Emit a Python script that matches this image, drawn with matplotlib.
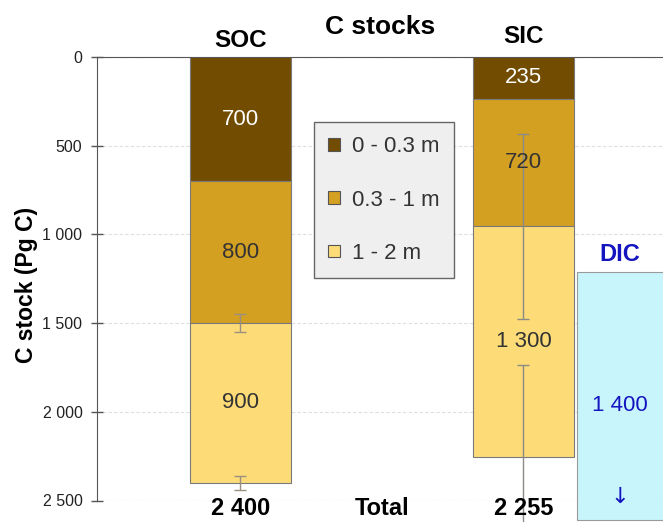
import numpy as np
import matplotlib
matplotlib.use("Agg")
import matplotlib.pyplot as plt
from matplotlib.patches import Patch
from matplotlib.ticker import FuncFormatter

plt.rcParams['font.family'] = ['Liberation Sans', 'DejaVu Sans']

# datos
capas = ['0 - 0.3 m', '0.3 - 1 m', '1 - 2 m']
colores = ['#724c00', '#d4a022', '#fddc78']
color_txt = ['white', '#333333', '#333333']

soc = [700, 800, 900]
sic = [235, 720, 1300]
soc_err = [50, 40]      # en 1500 y 2400
sic_err = [520, 520]    # en 955 y 2255
dic_inicio = 1212
dic = 1400

x_soc, x_sic = 1, 2
ancho = 0.357
x_dic = 2.19

def miles(v, pos=None):
    return f"{int(v):,}".replace(",", " ")

fig = plt.figure(figsize=(6.63, 5.22), dpi=100)
ax = fig.add_axes([97/663, 1 - 500.5/522, 566/663, 443.5/522])

# barras apiladas hacia abajo
for barras, xpos in [(soc, x_soc), (sic, x_sic)]:
    base = 0
    for i, v in enumerate(barras):
        ax.bar(xpos, v, bottom=base, width=ancho, color=colores[i],
               edgecolor='#7a7a7a', linewidth=0.8, zorder=2)
        ax.text(xpos, base + v / 2, miles(v), ha='center', va='center',
                fontsize=16, color=color_txt[i], zorder=4)
        base += v

# barras de error en las fronteras
soc_cum = np.cumsum(soc)[1:]
sic_cum = np.cumsum(sic)[1:]
ax.errorbar([x_soc] * 2, soc_cum, yerr=soc_err, fmt='none', ecolor='#9a8f80',
            elinewidth=1, capsize=4, capthick=1, zorder=3, clip_on=False)
ax.errorbar([x_sic] * 2, sic_cum, yerr=sic_err, fmt='none', ecolor='#8c8a86',
            elinewidth=1, capsize=4, capthick=1, zorder=3, clip_on=False)

# DIC
ax.bar(x_dic, dic, bottom=dic_inicio, width=ancho, align='edge', color='#c8f5fc',
       edgecolor='#9a9a9a', linewidth=0.8, zorder=2, clip_on=False)
x_dic_txt = 2.34
ax.text(x_dic_txt, 1116, 'DIC', ha='center', va='center', fontsize=17,
        fontweight='bold', color='#1515c0')
ax.text(x_dic_txt, 1965, miles(dic), ha='center', va='center', fontsize=16,
        color='#1515c0', zorder=4)
ax.text(x_dic_txt, 2478, '↓', ha='center', va='center', fontsize=16,
        color='#1515c0', zorder=4, family=['DejaVu Sans'])

# linea base de categorias (se ve sobre DIC)
ax.axhline(2500, color='#dcdcdc', linewidth=0.8, zorder=2.5)

# titulos y totales
ax.text(x_soc, -93, 'SOC', ha='center', va='center', fontsize=17.5, fontweight='bold', clip_on=False)
ax.text(x_sic, -113, 'SIC', ha='center', va='center', fontsize=17.5, fontweight='bold', clip_on=False)
ax.text(1.495, -169, 'C stocks', ha='center', va='center', fontsize=19, fontweight='bold', clip_on=False)
ax.text(x_soc, 2545, miles(sum(soc)), ha='center', va='center', fontsize=17, fontweight='bold', clip_on=False)
ax.text(x_sic, 2545, miles(sum(sic)), ha='center', va='center', fontsize=17, fontweight='bold', clip_on=False)
ax.text(1.5, 2545, 'Total', ha='center', va='center', fontsize=17, fontweight='bold', clip_on=False)

ax.set_xlim(0.493, 2.493)
ax.set_ylim(2500, 0)
ax.set_yticks(np.arange(0, 2501, 500))
ax.yaxis.set_major_formatter(FuncFormatter(miles))
ax.set_xticks([])
ax.tick_params(axis='y', direction='inout', length=9, width=1, color='#555555',
               labelsize=11.5, labelcolor='#222222', pad=6)
ax.yaxis.grid(True, linestyle=(0, (3, 2)), color='#dedede', linewidth=0.8, zorder=0)
ax.set_axisbelow(True)
for s in ['right', 'bottom']:
    ax.spines[s].set_visible(False)
ax.spines['left'].set_color('#555555')
ax.spines['top'].set_color('#555555')
ax.set_ylabel('C stock (Pg C)', fontsize=16.5, fontweight='bold')
ax.yaxis.set_label_coords(-0.105, 0.485)

handles = [Patch(facecolor=c, edgecolor='#555555', linewidth=0.8) for c in colores]
leg = fig.legend(handles, capas, loc='upper left', bbox_to_anchor=(314/663, 1 - 122/522),
                 bbox_transform=fig.transFigure, borderaxespad=0, fontsize=16,
                 handlelength=0.5, handleheight=0.5, handletextpad=0.55,
                 labelspacing=1.45, borderpad=0.65, fancybox=False, framealpha=1,
                 facecolor='#efefef', edgecolor='#666666')
leg.get_frame().set_linewidth(1)
for t in leg.get_texts():
    t.set_color('#333333')

fig.savefig('out.png', dpi=100)
